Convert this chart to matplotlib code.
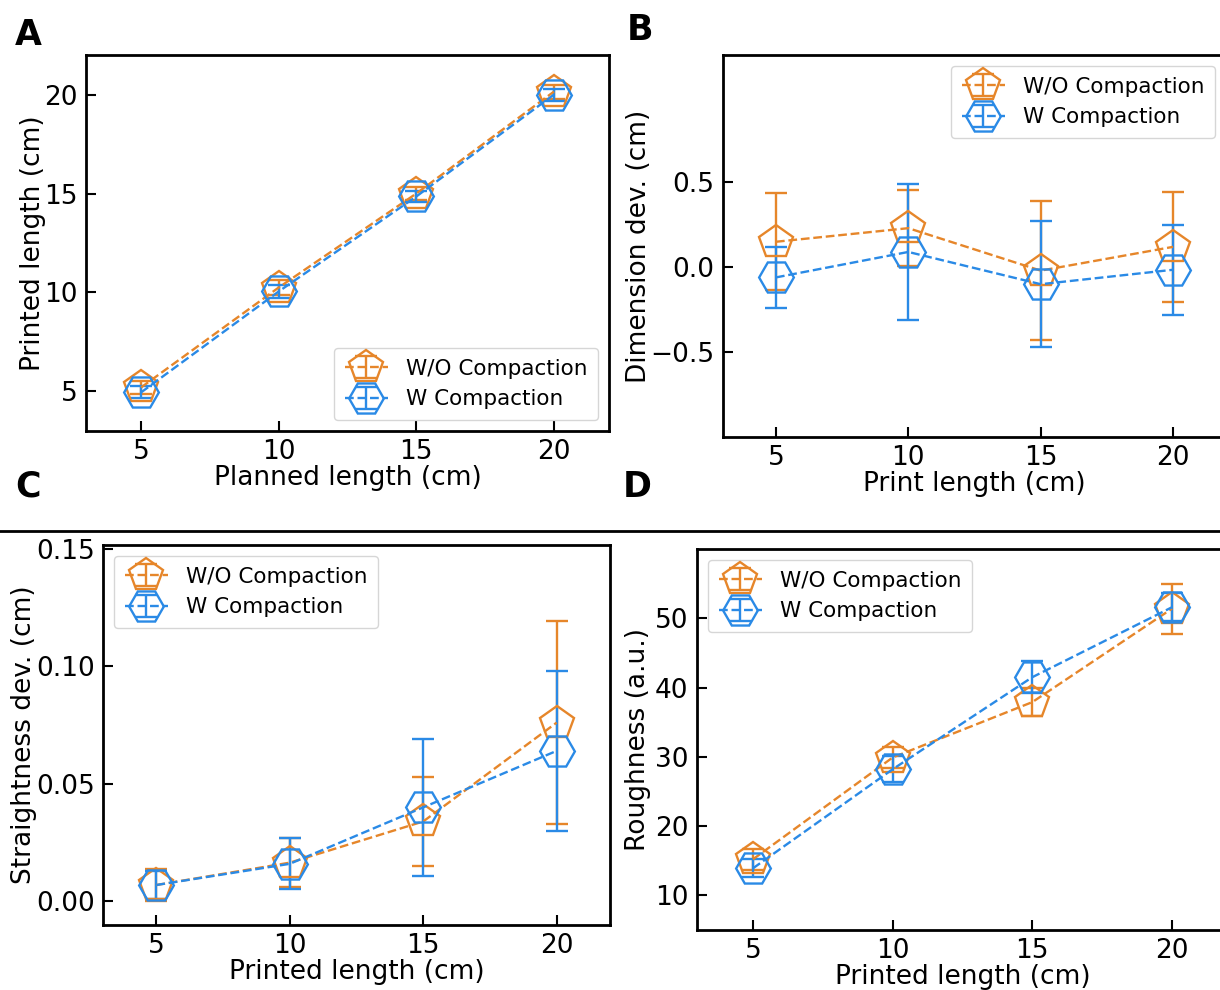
import matplotlib
matplotlib.use("Agg")
import matplotlib.pyplot as plt
from matplotlib.lines import Line2D

x = [5, 10, 15, 20]
labels = ["W/O Compaction", "W Compaction"]

# Panel A
a_wo = [5.2, 10.25, 15.0, 20.15]
a_wo_err = [0.35, 0.4, 0.35, 0.35]
a_w = [4.95, 10.05, 14.85, 20.0]
a_w_err = [0.3, 0.35, 0.3, 0.3]

# Panel B
b_wo = [0.15, 0.23, -0.02, 0.12]
b_wo_err = [0.285, 0.225, 0.41, 0.325]
b_w = [-0.06, 0.09, -0.10, -0.015]
b_w_err = [0.18, 0.40, 0.37, 0.265]

# Panel C
c_wo = [0.007, 0.0165, 0.034, 0.076]
c_wo_err = [0.007, 0.0105, 0.019, 0.043]
c_w = [0.007, 0.016, 0.040, 0.064]
c_w_err = [0.006, 0.0108, 0.029, 0.034]

# Panel D
d_wo = [15.2, 29.9, 37.9, 51.4]
d_wo_err = [1.5, 1.5, 2.0, 3.6]
d_w = [13.9, 28.2, 41.5, 51.6]
d_w_err = [1.3, 1.9, 2.3, 2.0]

ORANGE = "#E6862A"
BLUE = "#2A8AE6"
FS = 19

W, H = 1220, 990
fig = plt.figure(figsize=(W / 100, H / 100), dpi=100)


def rect(l, t, r, b):
    return [l / W, 1 - b / H, (r - l) / W, (b - t) / H]


def panel(r, wo, wo_err, w, w_err, xlabel, ylabel, ylim, yticks, ytl, loc, ypad):
    ax = fig.add_axes(rect(*r))
    ax.errorbar(x, wo, yerr=wo_err, color=ORANGE, ls="--", lw=1.7, marker="p",
                ms=25, mfc="none", mec=ORANGE, mew=1.7, capsize=8, elinewidth=1.7,
                capthick=1.7, label=labels[0])
    ax.errorbar(x, w, yerr=w_err, color=BLUE, ls="--", lw=1.7, marker="H",
                ms=25, mfc="none", mec=BLUE, mew=1.7, capsize=8, elinewidth=1.7,
                capthick=1.7, label=labels[1])
    ax.set_xlim(3, 22)
    ax.set_ylim(*ylim)
    ax.set_xticks(x)
    ax.set_yticks(yticks)
    ax.set_yticklabels(ytl)
    ax.tick_params(direction="in", length=7, width=1.5, labelsize=FS, pad=6)
    for s in ax.spines.values():
        s.set_linewidth(2)
    ax.set_xlabel(xlabel, fontsize=FS, labelpad=0)
    ax.set_ylabel(ylabel, fontsize=FS, labelpad=ypad)
    ax.legend(loc=loc, fontsize=15.5, handlelength=2.0, borderpad=0.5,
              labelspacing=0.5, handletextpad=0.85)
    return ax


panel((86, 55, 609, 431), a_wo, a_wo_err, a_w, a_w_err,
      "Planned length (cm)", "Printed length (cm)", (3, 22),
      [5, 10, 15, 20], ["5", "10", "15", "20"], "lower right", -1)
panel((723, 55, 1226, 437), b_wo, b_wo_err, b_w, b_w_err,
      "Print length (cm)", "Dimension dev. (cm)", (-1.0, 1.25),
      [-0.5, 0.0, 0.5], ["\u22120.5", "0.0", "0.5"], "upper right", -1)
panel((103, 545, 610, 925), c_wo, c_wo_err, c_w, c_w_err,
      "Printed length (cm)", "Straightness dev. (cm)", (-0.01, 0.1515),
      [0.0, 0.05, 0.10, 0.15], ["0.00", "0.05", "0.10", "0.15"], "upper left", -1)
panel((697, 549, 1228, 930), d_wo, d_wo_err, d_w, d_w_err,
      "Printed length (cm)", "Roughness (a.u.)", (5, 60),
      [10, 20, 30, 40, 50], ["10", "20", "30", "40", "50"], "upper left", 3)

fig.add_artist(Line2D([0, 1], [1 - 531 / H, 1 - 531 / H], transform=fig.transFigure,
                      color="black", lw=2))

for t, px, py in [("A", 28, 35), ("B", 640, 30), ("C", 28, 487), ("D", 637, 487)]:
    fig.text(px / W, 1 - py / H, t, fontsize=25, fontweight="bold",
             ha="center", va="center")

fig.savefig("out.png", dpi=100)
